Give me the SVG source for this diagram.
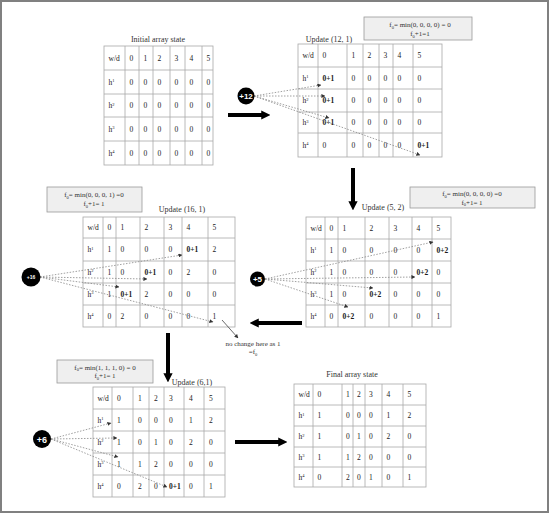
<svg xmlns="http://www.w3.org/2000/svg" width="550" height="514" viewBox="0 0 550 514">
<style>
.g{stroke:#a8a8a8;stroke-width:0.8;fill:#fff}
.gl{stroke:#a8a8a8;stroke-width:0.8;fill:none}
.c{font-family:"Liberation Serif",serif;font-size:7.5px;fill:#1a1a1a}
.b{font-weight:bold}
.s{font-size:4.5px}
.ti{font-family:"Liberation Serif",serif;font-size:8px;fill:#333;text-anchor:middle}
.bx{fill:#efefef;stroke:#9a9a9a;stroke-width:0.8}
.bt{font-family:"Liberation Serif",serif;font-size:7px;fill:#333;text-anchor:middle}
.dot{stroke:#888;stroke-width:0.8;stroke-dasharray:1.5 1.5;fill:none;marker-end:url(#sa)}
.big{stroke:#000;stroke-width:4;fill:none;marker-end:url(#ba)}
.ct{font-family:"Liberation Sans",sans-serif;font-weight:bold;fill:#fff;text-anchor:middle}
</style>
<defs>
<marker id="sa" viewBox="0 0 10 10" refX="9" refY="5" markerWidth="4" markerHeight="4" markerUnits="userSpaceOnUse" orient="auto"><path d="M0,0 L10,5 L0,10 z" fill="#333"/></marker>
<marker id="ba" viewBox="0 0 10 10" refX="3" refY="5" markerWidth="2.3" markerHeight="2.4" orient="auto"><path d="M0,0 L10,5 L0,10 z" fill="#000"/></marker>
</defs>
<rect x="1" y="1" width="547" height="511" fill="#fff" stroke="#808080" stroke-width="2"/>

<g id="table-initial">
<text class="ti" x="158" y="42">Initial array state</text>
<rect class="g" x="104" y="46" width="109" height="119"/>
<path class="gl" d="M125,46V165M139,46V165M153,46V165M170,46V165M185,46V165M202,46V165M104,70H213M104,94H213M104,117H213M104,141H213"/>
<g class="c">
<text x="108.5" y="60.6">w/d</text><text x="129.5" y="60.6">0</text><text x="143.5" y="60.6">1</text><text x="157.5" y="60.6">2</text><text x="174.5" y="60.6">3</text><text x="189.5" y="60.6">4</text><text x="206.5" y="60.6">5</text>
<text x="108.5" y="84.6">h<tspan class="s" dy="-2.5">1</tspan></text><text x="129.5" y="84.6">0</text><text x="143.5" y="84.6">0</text><text x="157.5" y="84.6">0</text><text x="174.5" y="84.6">0</text><text x="189.5" y="84.6">0</text><text x="206.5" y="84.6">0</text>
<text x="108.5" y="108.1">h<tspan class="s" dy="-2.5">2</tspan></text><text x="129.5" y="108.1">0</text><text x="143.5" y="108.1">0</text><text x="157.5" y="108.1">0</text><text x="174.5" y="108.1">0</text><text x="189.5" y="108.1">0</text><text x="206.5" y="108.1">0</text>
<text x="108.5" y="131.6">h<tspan class="s" dy="-2.5">3</tspan></text><text x="129.5" y="131.6">0</text><text x="143.5" y="131.6">0</text><text x="157.5" y="131.6">0</text><text x="174.5" y="131.6">0</text><text x="189.5" y="131.6">0</text><text x="206.5" y="131.6">0</text>
<text x="108.5" y="155.6">h<tspan class="s" dy="-2.5">4</tspan></text><text x="129.5" y="155.6">0</text><text x="143.5" y="155.6">0</text><text x="157.5" y="155.6">0</text><text x="174.5" y="155.6">0</text><text x="189.5" y="155.6">0</text><text x="206.5" y="155.6">0</text>
</g>
</g>

<g id="table-update-12-1">
<text class="ti" x="329" y="42">Update (12, 1)</text>
<rect class="g" x="298" y="44" width="144" height="113"/>
<path class="gl" d="M318,44V157M347,44V157M363,44V157M379,44V157M393,44V157M413,44V157M298,67H442M298,89H442M298,112H442M298,133H442"/>
<g class="c">
<text x="302.5" y="58">w/d</text><text x="322.5" y="58">0</text><text x="351.5" y="58">1</text><text x="367.5" y="58">2</text><text x="383.5" y="58">3</text><text x="397.5" y="58">4</text><text x="417.5" y="58">5</text>
<text x="302.5" y="80.6">h<tspan class="s" dy="-2.5">1</tspan></text><text class="b" x="322.5" y="80.6">0+1</text><text x="351.5" y="80.6">0</text><text x="367.5" y="80.6">0</text><text x="383.5" y="80.6">0</text><text x="397.5" y="80.6">0</text><text x="417.5" y="80.6">0</text>
<text x="302.5" y="103.1">h<tspan class="s" dy="-2.5">2</tspan></text><text class="b" x="322.5" y="103.1">0+1</text><text x="351.5" y="103.1">0</text><text x="367.5" y="103.1">0</text><text x="383.5" y="103.1">0</text><text x="397.5" y="103.1">0</text><text x="417.5" y="103.1">0</text>
<text x="302.5" y="125.1">h<tspan class="s" dy="-2.5">3</tspan></text><text class="b" x="322.5" y="125.1">0+1</text><text x="351.5" y="125.1">0</text><text x="367.5" y="125.1">0</text><text x="383.5" y="125.1">0</text><text x="397.5" y="125.1">0</text><text x="417.5" y="125.1">0</text>
<text x="302.5" y="147.6">h<tspan class="s" dy="-2.5">4</tspan></text><text x="322.5" y="147.6">0</text><text x="351.5" y="147.6">0</text><text x="367.5" y="147.6">0</text><text x="383.5" y="147.6">0</text><text x="397.5" y="147.6">0</text><text class="b" x="417.5" y="147.6">0+1</text>
</g>
</g>

<g id="box-12-1">
<rect class="bx" x="364" y="17" width="108" height="23"/>
<text class="bt" x="420" y="27">f<tspan class="s" dy="1.5">0</tspan><tspan dy="-1.5">= min(0, 0, 0, 0) = 0</tspan></text>
<text class="bt" x="420" y="36">f<tspan class="s" dy="1.5">0</tspan><tspan dy="-1.5">+1=1</tspan></text>
</g>

<g id="table-update-16-1">
<text class="ti" x="182" y="212">Update (16, 1)</text>
<rect class="g" x="83" y="217" width="152" height="110"/>
<path class="gl" d="M103,217V327M116,217V327M140,217V327M164,217V327M182,217V327M208,217V327M83,238H235M83,261H235M83,283H235M83,305H235"/>
<g class="c">
<text x="87.5" y="230.1">w/d</text><text x="107.5" y="230.1">0</text><text x="120.5" y="230.1">1</text><text x="144.5" y="230.1">2</text><text x="168.5" y="230.1">3</text><text x="186.5" y="230.1">4</text><text x="212.5" y="230.1">5</text>
<text x="87.5" y="252.1">h<tspan class="s" dy="-2.5">1</tspan></text><text x="107.5" y="252.1">1</text><text x="120.5" y="252.1">0</text><text x="144.5" y="252.1">0</text><text x="168.5" y="252.1">0</text><text class="b" x="186.5" y="252.1">0+1</text><text x="212.5" y="252.1">2</text>
<text x="87.5" y="274.6">h<tspan class="s" dy="-2.5">2</tspan></text><text x="107.5" y="274.6">1</text><text x="120.5" y="274.6">0</text><text class="b" x="144.5" y="274.6">0+1</text><text x="168.5" y="274.6">0</text><text x="186.5" y="274.6">2</text><text x="212.5" y="274.6">0</text>
<text x="87.5" y="296.6">h<tspan class="s" dy="-2.5">3</tspan></text><text x="107.5" y="296.6">1</text><text class="b" x="120.5" y="296.6">0+1</text><text x="144.5" y="296.6">2</text><text x="168.5" y="296.6">0</text><text x="186.5" y="296.6">0</text><text x="212.5" y="296.6">0</text>
<text x="87.5" y="318.6">h<tspan class="s" dy="-2.5">4</tspan></text><text x="107.5" y="318.6">0</text><text x="120.5" y="318.6">2</text><text x="144.5" y="318.6">0</text><text x="168.5" y="318.6">0</text><text x="186.5" y="318.6">0</text><text x="212.5" y="318.6">1</text>
</g>
</g>

<g id="box-16-1">
<rect class="bx" x="47" y="187" width="95" height="25"/>
<text class="bt" x="94" y="197">f<tspan class="s" dy="1.5">0</tspan><tspan dy="-1.5">= min(0, 0, 0, 1) =0</tspan></text>
<text class="bt" x="94" y="206">f<tspan class="s" dy="1.5">0</tspan><tspan dy="-1.5">+1= 1</tspan></text>
</g>

<g id="table-update-5-2">
<text class="ti" x="383" y="210">Update (5, 2)</text>
<rect class="g" x="306" y="217" width="145" height="110"/>
<path class="gl" d="M325,217V327M338,217V327M365,217V327M389,217V327M412,217V327M432,217V327M306,239H451M306,261H451M306,283H451M306,305H451"/>
<g class="c">
<text x="310.5" y="230.6">w/d</text><text x="329.5" y="230.6">0</text><text x="342.5" y="230.6">1</text><text x="369.5" y="230.6">2</text><text x="393.5" y="230.6">3</text><text x="416.5" y="230.6">4</text><text x="436.5" y="230.6">5</text>
<text x="310.5" y="252.6">h<tspan class="s" dy="-2.5">1</tspan></text><text x="329.5" y="252.6">1</text><text x="342.5" y="252.6">0</text><text x="369.5" y="252.6">0</text><text x="393.5" y="252.6">0</text><text x="416.5" y="252.6">0</text><text class="b" x="436.5" y="252.6">0+2</text>
<text x="310.5" y="274.6">h<tspan class="s" dy="-2.5">2</tspan></text><text x="329.5" y="274.6">1</text><text x="342.5" y="274.6">0</text><text x="369.5" y="274.6">0</text><text x="393.5" y="274.6">0</text><text class="b" x="416.5" y="274.6">0+2</text><text x="436.5" y="274.6">0</text>
<text x="310.5" y="296.6">h<tspan class="s" dy="-2.5">3</tspan></text><text x="329.5" y="296.6">1</text><text x="342.5" y="296.6">0</text><text class="b" x="369.5" y="296.6">0+2</text><text x="393.5" y="296.6">0</text><text x="416.5" y="296.6">0</text><text x="436.5" y="296.6">0</text>
<text x="310.5" y="318.6">h<tspan class="s" dy="-2.5">4</tspan></text><text x="329.5" y="318.6">0</text><text class="b" x="342.5" y="318.6">0+2</text><text x="369.5" y="318.6">0</text><text x="393.5" y="318.6">0</text><text x="416.5" y="318.6">0</text><text x="436.5" y="318.6">1</text>
</g>
</g>

<g id="box-5-2">
<rect class="bx" x="410" y="187" width="125" height="21"/>
<text class="bt" x="472" y="196">f<tspan class="s" dy="1.5">0</tspan><tspan dy="-1.5">= min(0, 0, 0, 0) =0</tspan></text>
<text class="bt" x="472" y="204.5">f<tspan class="s" dy="1.5">0</tspan><tspan dy="-1.5">+1= 1</tspan></text>
</g>

<g id="table-update-6-1">
<text class="ti" x="192" y="385">Update (6,1)</text>
<rect class="g" x="93" y="387" width="132" height="110"/>
<path class="gl" d="M112,387V497M133,387V497M149,387V497M164,387V497M184,387V497M204,387V497M93,409H225M93,431H225M93,453H225M93,475H225"/>
<g class="c">
<text x="97.5" y="400.6">w/d</text><text x="117" y="400.6">0</text><text x="138" y="400.6">1</text><text x="154" y="400.6">2</text><text x="169" y="400.6">3</text><text x="189" y="400.6">4</text><text x="209" y="400.6">5</text>
<text x="97.5" y="422.6">h<tspan class="s" dy="-2.5">1</tspan></text><text x="117" y="422.6">1</text><text x="138" y="422.6">0</text><text x="154" y="422.6">0</text><text x="169" y="422.6">0</text><text x="189" y="422.6">1</text><text x="209" y="422.6">2</text>
<text x="97.5" y="444.6">h<tspan class="s" dy="-2.5">2</tspan></text><text x="117" y="444.6">1</text><text x="138" y="444.6">0</text><text x="154" y="444.6">1</text><text x="169" y="444.6">0</text><text x="189" y="444.6">2</text><text x="209" y="444.6">0</text>
<text x="97.5" y="466.6">h<tspan class="s" dy="-2.5">3</tspan></text><text x="117" y="466.6">1</text><text x="138" y="466.6">1</text><text x="154" y="466.6">2</text><text x="169" y="466.6">0</text><text x="189" y="466.6">0</text><text x="209" y="466.6">0</text>
<text x="97.5" y="488.6">h<tspan class="s" dy="-2.5">4</tspan></text><text x="117" y="488.6">0</text><text x="138" y="488.6">2</text><text x="154" y="488.6">0</text><text class="b" x="169" y="488.6">0+1</text><text x="189" y="488.6">0</text><text x="209" y="488.6">1</text>
</g>
</g>

<g id="box-6-1">
<rect class="bx" x="57" y="360" width="96" height="23"/>
<text class="bt" x="105" y="369.5">f<tspan class="s" dy="1.5">0</tspan><tspan dy="-1.5">= min(1, 1, 1, 0) = 0</tspan></text>
<text class="bt" x="105" y="378">f<tspan class="s" dy="1.5">0</tspan><tspan dy="-1.5">+1= 1</tspan></text>
</g>

<g id="table-final">
<text class="ti" x="352" y="377">Final array state</text>
<rect class="g" x="294" y="384" width="132" height="103"/>
<path class="gl" d="M313,384V487M342,384V487M353,384V487M365,384V487M382,384V487M403,384V487M294,405H426M294,426H426M294,447H426M294,467H426"/>
<g class="c">
<text x="298.5" y="397.1">w/d</text><text x="317.5" y="397.1">0</text><text x="346" y="397.1">1</text><text x="357" y="397.1">2</text><text x="369" y="397.1">3</text><text x="386.5" y="397.1">4</text><text x="407.5" y="397.1">5</text>
<text x="298.5" y="418.1">h<tspan class="s" dy="-2.5">1</tspan></text><text x="317.5" y="418.1">1</text><text x="346" y="418.1">0</text><text x="357" y="418.1">0</text><text x="369" y="418.1">0</text><text x="386.5" y="418.1">1</text><text x="407.5" y="418.1">2</text>
<text x="298.5" y="439.1">h<tspan class="s" dy="-2.5">2</tspan></text><text x="317.5" y="439.1">1</text><text x="346" y="439.1">0</text><text x="357" y="439.1">1</text><text x="369" y="439.1">0</text><text x="386.5" y="439.1">2</text><text x="407.5" y="439.1">0</text>
<text x="298.5" y="459.6">h<tspan class="s" dy="-2.5">3</tspan></text><text x="317.5" y="459.6">1</text><text x="346" y="459.6">1</text><text x="357" y="459.6">2</text><text x="369" y="459.6">0</text><text x="386.5" y="459.6">0</text><text x="407.5" y="459.6">0</text>
<text x="298.5" y="479.6">h<tspan class="s" dy="-2.5">4</tspan></text><text x="317.5" y="479.6">0</text><text x="346" y="479.6">2</text><text x="357" y="479.6">0</text><text x="369" y="479.6">1</text><text x="386.5" y="479.6">0</text><text x="407.5" y="479.6">1</text>
</g>
</g>

<g id="note-no-change">
<text class="bt" x="253" y="346">no change here as 1</text>
<text class="bt" x="253" y="354">=f<tspan class="s" dy="1.5">0</tspan></text>
</g>

<g id="connectors">
<path class="big" d="M228,115H264"/>
<path class="big" d="M353,168V204"/>
<path class="big" d="M302,323H256"/>
<path class="big" d="M168,333V376"/>
<path class="big" d="M235,442H281"/>
<path class="dot" d="M254,96L321,85"/>
<path class="dot" d="M254,96L325,96"/>
<path class="dot" d="M254,96L329,118"/>
<path class="dot" d="M254,96L420,155"/>
<path class="dot" d="M40,277L182,255"/>
<path class="dot" d="M40,277L147,279"/>
<path class="dot" d="M40,277L119,287"/>
<path class="dot" d="M40,277L213,322"/>
<path class="dot" d="M265,279L433,242"/>
<path class="dot" d="M265,279L415,277"/>
<path class="dot" d="M265,279L373,288"/>
<path class="dot" d="M265,279L348,307"/>
<path class="dot" d="M51,439L111,423"/>
<path class="dot" d="M51,439L117,438"/>
<path class="dot" d="M51,439L118,457"/>
<path class="dot" d="M51,439L167,487"/>
<path d="M222,320L238,338" stroke="#444" stroke-width="0.8" fill="none" marker-end="url(#sa)"/>
</g>

<g id="circle-12"><circle cx="246" cy="96" r="8.5" fill="#000"/><text class="ct" x="246" y="99" font-size="8">+12</text></g>
<g id="circle-16"><circle cx="31" cy="277" r="9.5" fill="#000"/><text class="ct" x="31" y="279" font-size="5">+16</text></g>
<g id="circle-5"><circle cx="257.5" cy="279" r="7.5" fill="#000"/><text class="ct" x="257.5" y="282" font-size="8">+5</text></g>
<g id="circle-6"><circle cx="42" cy="439" r="9" fill="#000"/><text class="ct" x="42" y="442.5" font-size="9">+6</text></g>
</svg>
